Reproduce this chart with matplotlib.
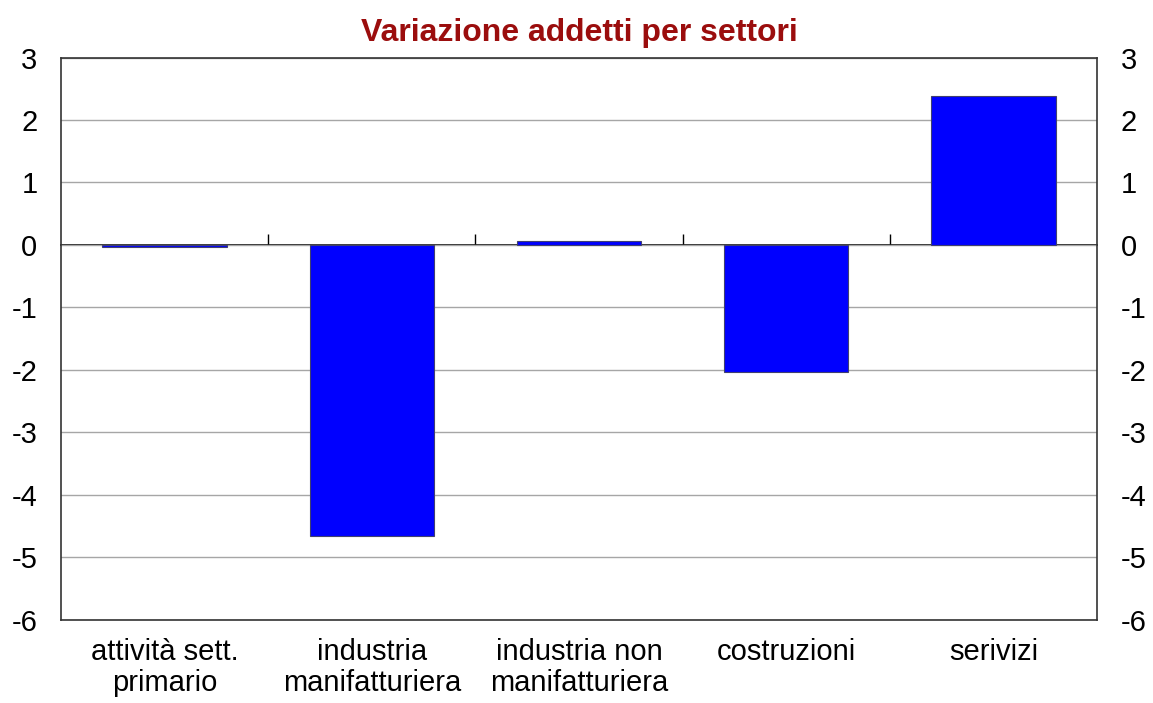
import numpy as np
import matplotlib.pyplot as plt

plt.rcParams['font.family'] = ['Liberation Sans', 'DejaVu Sans']

settori = ['attività sett.\nprimario', 'industria\nmanifatturiera',
           'industria non\nmanifatturiera', 'costruzioni', 'serivizi']
variazione = [-0.03, -4.66, 0.06, -2.03, 2.38]
y_ticks = list(range(-6, 4))

fig = plt.figure(figsize=(11.53, 7.03), dpi=100)
ax = fig.add_axes([0.0529, 0.1181, 0.8985, 0.8001])

x = np.arange(len(settori))
ax.bar(x, variazione, width=0.6, color='#0000ff', edgecolor='#404070',
       linewidth=0.8, zorder=3)

ax.set_xlim(-0.5, len(settori) - 0.5)
ax.set_ylim(-6, 3)
ax.set_yticks(y_ticks)
ax.set_yticklabels([str(v) for v in y_ticks])
ax.yaxis.grid(True, color='#a6a6a6', linewidth=1.0, zorder=0)
ax.tick_params(axis='y', length=0, labelsize=21, pad=17,
               labelright=True, right=False)

ax.set_xticks(x)
ax.set_xticklabels(settori, fontsize=21, linespacing=1.15)
ax.tick_params(axis='x', length=0, pad=13)

for s in ax.spines.values():
    s.set_color('#333333')
    s.set_linewidth(1.2)

# zero line with category separators
zero = ax.secondary_xaxis(0, transform=ax.transData)
zero.set_xticks(np.arange(1, len(settori)) - 0.5)
zero.set_xticklabels([])
zero.tick_params(direction='in', length=8, width=1.0, color='black')
zero.spines['bottom'].set_color('black')
zero.spines['bottom'].set_linewidth(1.2)

ax.set_title('Variazione addetti per settori', fontsize=23, fontweight='bold',
             color='#9b0d0d', pad=12)

fig.savefig('out.png', dpi=100)
